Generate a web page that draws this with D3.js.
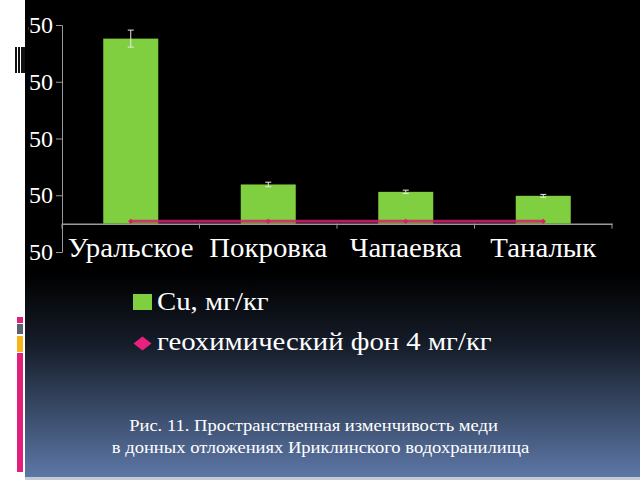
<!DOCTYPE html>
<html>
<head>
<meta charset="utf-8">
<script src="https://cdn.jsdelivr.net/npm/d3@7"></script>
<style>
  html, body { margin: 0; padding: 0; background: #fff; }
  svg { display: block; font-family: "Liberation Serif", "DejaVu Serif", serif; }
</style>
</head>
<body>
<svg id="chart"></svg>
<script>
// Data
const sites = ["Уральское", "Покровка", "Чапаевка", "Таналык"];
const cuValues = [326, 69, 56, 49];
const cuErrors = [15, 4, 3, 2.5];
const background = [4, 4, 4, 4];
const yTicks = [-50, 50, 150, 250, 350];
const legendLabels = ["Cu, мг/кг", "геохимический фон 4 мг/кг"];
const captionLines = [
  "Рис. 11. Пространственная изменчивость меди",
  "в донных отложениях Ириклинского водохранилища"
];

const width = 640;
const height = 480;
const green = "#80cf40";
const pink = "#d8206e";

const svg = d3.select("#chart")
  .attr("width", width)
  .attr("height", height);

// slide background
const defs = svg.append("defs");
const grad = defs.append("linearGradient")
  .attr("id", "bg")
  .attr("x1", 0).attr("y1", 0).attr("x2", 0).attr("y2", 1);
grad.append("stop").attr("offset", "0%").attr("stop-color", "#000");
grad.append("stop").attr("offset", "57%").attr("stop-color", "#000");
grad.append("stop").attr("offset", "72%").attr("stop-color", "#161d2a");
grad.append("stop").attr("offset", "100%").attr("stop-color", "#5e79a9");

// value labels are cut at the slide edge, as in the original
defs.append("clipPath").attr("id", "labelClip")
  .append("rect").attr("x", 28).attr("y", 0).attr("width", width - 28).attr("height", height);

svg.append("rect").attr("width", width).attr("height", height).attr("fill", "#fff");
svg.append("rect").attr("x", 25).attr("width", width - 25).attr("height", height)
  .attr("fill", "url(#bg)");
svg.append("rect").attr("x", 25).attr("y", 477).attr("width", width - 25).attr("height", 3)
  .attr("fill", "#c4cad4");

// left decorations
const stripes = svg.append("g").attr("transform", "translate(15,47)");
stripes.append("rect").attr("width", 10).attr("height", 26).attr("fill", "#fff");
[0, 3, 6, 8].forEach(x => {
  stripes.append("rect").attr("x", x).attr("width", 2).attr("height", 26).attr("fill", "#111");
});
const blocks = [
  {y: 317, h: 6, c: "#e0207a"},
  {y: 324, h: 10, c: "#5a6272"},
  {y: 336, h: 16, c: "#f5b41a"},
  {y: 353, h: 119, c: "#e0207a"}
];
svg.selectAll(".block")
  .data(blocks)
  .enter()
  .append("rect")
  .attr("x", 17).attr("y", d => d.y)
  .attr("width", 6).attr("height", d => d.h)
  .attr("fill", d => d.c);

// Scales
const x = d3.scaleBand()
  .domain(sites)
  .range([62, 612])
  .paddingInner(0.6)
  .paddingOuter(0.3);

const xCenter = d3.scalePoint()
  .domain(sites)
  .range([62, 612])
  .padding(0.5);

const y = d3.scaleLinear()
  .domain([-50, 350])
  .range([252, 25]);

// y axis
const yAxis = d3.axisLeft(y).tickValues(yTicks).tickSize(6).tickPadding(3);
const gy = svg.append("g")
  .attr("clip-path", "url(#labelClip)")
  .append("g")
  .attr("transform", "translate(62,0)")
  .call(yAxis);
gy.attr("font-family", null).attr("font-size", null);
gy.select(".domain").attr("stroke", "#9a9a9a");
gy.selectAll(".tick line").attr("stroke", "#9a9a9a");
gy.selectAll(".tick text")
  .attr("fill", "#fff")
  .style("font-size", "24px");

// x axis at zero
const xAxis = d3.axisBottom(x).tickSize(0).tickFormat("");
const gx = svg.append("g")
  .attr("transform", `translate(0,${y(0)})`)
  .call(xAxis);
gx.select(".domain").attr("stroke", "#9a9a9a").attr("stroke-width", 1.5);

// category boundary ticks
const step = x.step();
const bounds = d3.range(sites.length + 1).map(i => 62 + i * step);
svg.append("g").selectAll("line")
  .data(bounds)
  .enter()
  .append("line")
  .attr("x1", d => d).attr("x2", d => d)
  .attr("y1", y(0)).attr("y2", y(0) + 5)
  .attr("stroke", "#9a9a9a");

// category labels
svg.append("g").selectAll("text")
  .data(sites)
  .enter()
  .append("text")
  .attr("transform", d => `translate(${xCenter(d)},257) scale(1.03,1)`)
  .attr("text-anchor", "middle")
  .attr("fill", "#fff")
  .style("font-size", "28px")
  .text(d => d);

// bars
svg.append("g").selectAll("rect")
  .data(sites)
  .enter()
  .append("rect")
  .attr("x", d => x(d))
  .attr("y", (d, i) => y(cuValues[i]))
  .attr("width", x.bandwidth())
  .attr("height", (d, i) => y(0) - y(cuValues[i]))
  .attr("fill", green);

// error bars
const err = svg.append("g")
  .attr("stroke", "#e8e8e8")
  .attr("stroke-width", 1);
sites.forEach((s, i) => {
  const cx = xCenter(s);
  const top = y(cuValues[i] + cuErrors[i]);
  const bot = y(cuValues[i] - cuErrors[i]);
  err.append("line").attr("x1", cx).attr("x2", cx).attr("y1", top).attr("y2", bot);
  err.append("line").attr("x1", cx - 3).attr("x2", cx + 3).attr("y1", top).attr("y2", top);
  err.append("line").attr("x1", cx - 3).attr("x2", cx + 3).attr("y1", bot).attr("y2", bot);
});

// background line
const line = d3.line()
  .x((d, i) => xCenter(sites[i]))
  .y(d => y(d));
svg.append("path")
  .datum(background)
  .attr("d", line)
  .attr("fill", "none")
  .attr("stroke", pink)
  .attr("stroke-width", 3)
  .attr("stroke-opacity", 0.85);
svg.append("g").selectAll("path")
  .data(background)
  .enter()
  .append("path")
  .attr("d", d3.symbol().type(d3.symbolDiamond2).size(18))
  .attr("transform", (d, i) => `translate(${xCenter(sites[i])},${y(d)})`)
  .attr("fill", pink);

// legend
const legend = svg.append("g");
legend.append("rect")
  .attr("x", 133).attr("y", 294)
  .attr("width", 19).attr("height", 16)
  .attr("fill", green);
legend.append("path")
  .attr("d", "M0,-7L9,0L0,7L-9,0Z")
  .attr("transform", "translate(142.5,343.5)")
  .attr("fill", "#e8217f");
legend.selectAll("text")
  .data(legendLabels)
  .enter()
  .append("text")
  .attr("transform", (d, i) => `translate(157,${310 + i * 40}) scale(1.15,1)`)
  .attr("fill", "#fff")
  .style("font-size", "25px")
  .text(d => d);

// caption
svg.append("g").selectAll("text")
  .data(captionLines)
  .enter()
  .append("text")
  .attr("transform", (d, i) => `translate(${i === 0 ? 313.5 : 320.5},${431 + i * 22}) scale(1.16,1)`)
  .attr("text-anchor", "middle")
  .attr("fill", "#fff")
  .style("font-size", "16px")
  .text(d => d);
</script>
</body>
</html>
